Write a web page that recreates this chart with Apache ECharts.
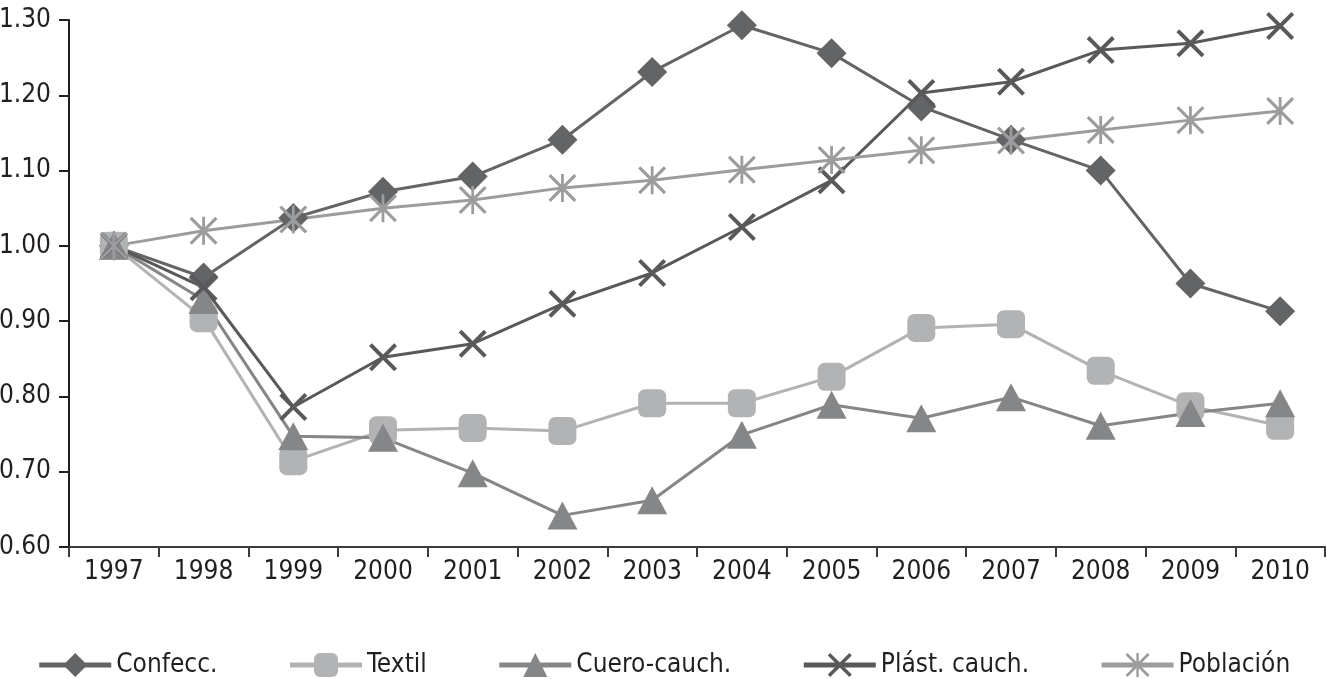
<!DOCTYPE html>
<html>
<head>
<meta charset="utf-8">
<script src="https://cdn.jsdelivr.net/npm/echarts@6/dist/echarts.min.js"></script>
<style>
html,body{margin:0;padding:0;background:#fff;}
#c{width:1327px;height:679px;}
</style>
</head>
<body>
<div id="c"></div>
<script>
var years = ['1997','1998','1999','2000','2001','2002','2003','2004','2005','2006','2007','2008','2009','2010'];
var confecc   = [1.000, 0.958, 1.037, 1.072, 1.092, 1.141, 1.231, 1.293, 1.256, 1.185, 1.141, 1.100, 0.950, 0.913];
var textil    = [1.000, 0.904, 0.714, 0.755, 0.758, 0.754, 0.791, 0.791, 0.826, 0.891, 0.896, 0.834, 0.787, 0.761];
var cuero     = [1.000, 0.928, 0.747, 0.745, 0.698, 0.642, 0.662, 0.749, 0.789, 0.771, 0.799, 0.761, 0.778, 0.791];
var plast     = [1.000, 0.945, 0.786, 0.852, 0.870, 0.923, 0.964, 1.025, 1.087, 1.203, 1.218, 1.260, 1.269, 1.292];
var poblacion = [1.000, 1.020, 1.035, 1.050, 1.061, 1.077, 1.087, 1.101, 1.114, 1.127, 1.140, 1.154, 1.167, 1.179];
var seriesNames = ['Confecc.', 'Textil', 'Cuero-cauch.', 'Plást. cauch.', 'Población'];

var FONT = "'DejaVu Sans Condensed', 'Liberation Sans Narrow', sans-serif";
var xPath = 'path://M0,10 L10,0 L50,40 L90,0 L100,10 L60,50 L100,90 L90,100 L50,60 L10,100 L0,90 L40,50 Z';
var starPath = 'path://M45,0 L55,0 L55,100 L45,100 Z M0,8 L8,0 L100,92 L92,100 Z M92,0 L100,8 L8,100 L0,92 Z';

function mk(name, data, color, symbol, size) {
  return {
    name: name, type: 'line', data: data,
    symbol: symbol, symbolSize: size,
    lineStyle: {color: color, width: 3},
    itemStyle: {color: color},
    emphasis: {disabled: true},
    animation: false
  };
}

var chart = echarts.init(document.getElementById('c'));
chart.setOption({
  backgroundColor: '#fff',
  animation: false,
  grid: {left: 69, right: 2, top: 20, height: 527, containLabel: false, outerBoundsMode: 'none'},
  legend: {
    top: 647, left: 'center',
    itemWidth: 72, itemHeight: 30, itemGap: 70,
    lineStyle: {width: 5},
    textStyle: {fontFamily: FONT, fontSize: 26, color: '#231f20'},
    data: seriesNames
  },
  xAxis: {
    type: 'category', data: years, boundaryGap: true,
    axisLine: {lineStyle: {color: '#3c3c3e', width: 2}},
    axisTick: {show: true, length: 10, lineStyle: {color: '#3c3c3e', width: 2}},
    axisLabel: {fontFamily: FONT, fontSize: 26, color: '#231f20', margin: 12}
  },
  yAxis: {
    type: 'value', min: 0.6, max: 1.3, interval: 0.1,
    splitLine: {show: false},
    axisLine: {show: true, lineStyle: {color: '#231f20', width: 2}},
    axisTick: {show: true, length: 10, lineStyle: {color: '#231f20', width: 2}},
    axisLabel: {fontFamily: FONT, fontSize: 26, color: '#231f20', margin: 18,
      padding: [0, 0, 8, 0],
      formatter: function (v) { return v.toFixed(2); }}
  },
  series: [
    mk(seriesNames[0], confecc, '#636466', 'diamond', [30, 30]),
    mk(seriesNames[1], textil, '#b2b3b4', 'roundRect', 28),
    mk(seriesNames[2], cuero, '#858688', 'triangle', [30, 28]),
    mk(seriesNames[3], plast, '#58595b', xPath, 28),
    mk(seriesNames[4], poblacion, '#9b9c9e', starPath, 28)
  ]
});
</script>
</body>
</html>
